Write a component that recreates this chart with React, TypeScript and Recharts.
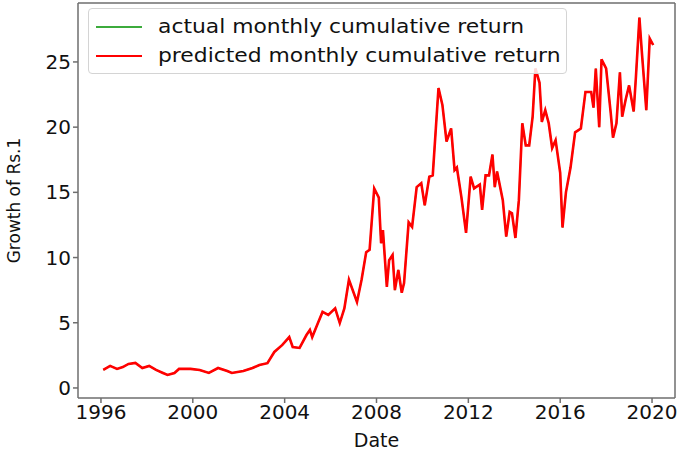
import { Line, LineChart, XAxis, YAxis, ReferenceLine } from "recharts";

// decimal year of each observation
const dates = [
  1996.1, 1996.4, 1996.7, 1996.95, 1997.2, 1997.5, 1997.8, 1998.1, 1998.4, 1998.7,
  1998.9, 1999.2, 1999.4, 1999.9, 2000.3, 2000.7, 2001.1, 2001.5, 2001.7, 2002.2,
  2002.6, 2002.9, 2003.25, 2003.55, 2003.9, 2004.2, 2004.35, 2004.65, 2004.95, 2005.1,
  2005.2, 2005.45, 2005.65, 2005.9, 2006.2, 2006.4, 2006.6, 2006.8, 2007.15, 2007.35,
  2007.55, 2007.7, 2007.9, 2008.1, 2008.2, 2008.28, 2008.45, 2008.55, 2008.7, 2008.8,
  2008.95, 2009.1, 2009.2, 2009.4, 2009.55, 2009.75, 2009.95, 2010.1, 2010.3, 2010.45,
  2010.7, 2010.87, 2011.05, 2011.25, 2011.4, 2011.5, 2011.7, 2011.9, 2012.1, 2012.25,
  2012.5, 2012.6, 2012.75, 2012.9, 2013.05, 2013.15, 2013.25, 2013.5, 2013.65, 2013.8,
  2013.9, 2014.05, 2014.2, 2014.35, 2014.5, 2014.65, 2014.8, 2014.92, 2015.1, 2015.2,
  2015.35, 2015.5, 2015.65, 2015.8, 2016.0, 2016.1, 2016.25, 2016.45, 2016.65, 2016.9,
  2017.1, 2017.35, 2017.45, 2017.55, 2017.7, 2017.8, 2018.0, 2018.2, 2018.3, 2018.45,
  2018.6, 2018.7, 2018.85, 2019.0, 2019.2, 2019.3, 2019.45, 2019.55, 2019.75, 2019.9,
  2020.05,
];

const predicted = [
  1.38, 1.69, 1.46, 1.6, 1.84, 1.92, 1.53, 1.69, 1.38, 1.15,
  1.0, 1.15, 1.46, 1.46, 1.38, 1.15, 1.53, 1.3, 1.15, 1.3,
  1.53, 1.76, 1.9, 2.76, 3.3, 3.9, 3.14, 3.07, 4.06, 4.45,
  3.9, 4.98, 5.83, 5.6, 6.1, 4.98, 6.1, 8.3, 6.6, 8.3,
  10.4, 10.6, 15.3, 14.6, 11.1, 12.1, 7.75, 9.8, 10.2, 7.5,
  9.05, 7.3, 8.05, 12.7, 12.35, 15.4, 15.7, 14.0, 16.2, 16.3,
  23.0, 21.7, 18.9, 19.9, 16.7, 16.9, 14.6, 11.9, 16.2, 15.3,
  15.6, 13.65, 16.3, 16.3, 17.9, 15.4, 16.6, 14.4, 11.6, 13.5,
  13.4, 11.5, 14.4, 20.3, 18.6, 18.6, 20.8, 24.5, 23.4, 20.4,
  21.3, 20.3, 18.4, 19.0, 16.5, 12.3, 15.0, 16.9, 19.6, 19.9,
  22.7, 22.7, 21.5, 24.5, 20.0, 25.2, 24.5, 21.1, 19.2, 20.3,
  24.2, 20.8, 22.1, 23.2, 21.2, 23.9, 28.4, 25.9, 21.3, 26.8,
  26.3,
];

// actual series sits underneath the prediction
const actual = predicted;

const xTicks = [1996, 2000, 2004, 2008, 2012, 2016, 2020];
const yTicks = [0, 5, 10, 15, 20, 25];

const rows = dates.map((d, i) => ({ date: d, actual: actual[i], predicted: predicted[i] }));

const FONT = "'DejaVu Sans', sans-serif";
const SPINE = "#6e6e6e";
const X_DOMAIN: [number, number] = [1995.0, 2021.0];
const Y_DOMAIN: [number, number] = [-0.77, 29.52];

function LegendBox() {
  const item = (color: string, label: string) => (
    <div style={{ display: "flex", alignItems: "center", height: 29 }}>
      <div style={{ width: 46, height: 2, background: color, marginRight: 16 }} />
      <span style={{ display: "inline-block", transform: "scaleX(1.12)", transformOrigin: "left center" }}>{label}</span>
    </div>
  );
  return (
    <div
      style={{
        position: "absolute",
        left: 88,
        top: 8,
        width: 470,
        border: "1px solid #d4d4d4",
        borderRadius: 4,
        background: "rgba(255,255,255,0.85)",
        padding: "3px 0 3px 7px",
        fontFamily: FONT,
        fontSize: 19.5,
        color: "#111",
        lineHeight: 1,
      }}
    >
      {item("#3cab3c", "actual monthly cumulative return")}
      {item("#ff0000", "predicted monthly cumulative return")}
    </div>
  );
}

export default function App() {
  return (
    <div style={{ position: "absolute", left: 0, top: 0, width: 685, height: 456, background: "#fff" }}>
      <LineChart width={685} height={456} data={rows} margin={{ top: 3, right: 10, left: 0, bottom: 0 }}>
        <XAxis
          dataKey="date"
          type="number"
          domain={X_DOMAIN}
          ticks={xTicks}
          allowDataOverflow
          height={58}
          stroke={SPINE}
          strokeWidth={1.5}
          tickSize={5}
          tick={{ fill: "#111", fontSize: 20, fontFamily: FONT }}
          label={{ value: "Date", position: "insideBottom", offset: 9, fill: "#111", fontSize: 19, fontFamily: FONT }}
        />
        <YAxis
          type="number"
          domain={Y_DOMAIN}
          ticks={yTicks}
          allowDataOverflow
          width={78}
          stroke={SPINE}
          strokeWidth={1.5}
          tickSize={5}
          tick={{ fill: "#111", fontSize: 20, fontFamily: FONT }}
          label={{ value: "Growth of Rs.1", angle: -90, position: "insideLeft", offset: 14, fill: "#111", fontSize: 17, fontFamily: FONT, style: { textAnchor: "middle" } }}
        />
        {/* top and right spines */}
        <ReferenceLine y={Y_DOMAIN[1]} stroke={SPINE} strokeWidth={1.5} ifOverflow="visible" />
        <ReferenceLine x={X_DOMAIN[1]} stroke={SPINE} strokeWidth={1.5} ifOverflow="visible" />
        <Line type="linear" dataKey="actual" stroke="#3cab3c" strokeWidth={1.5} dot={false} isAnimationActive={false} />
        <Line type="linear" dataKey="predicted" stroke="#ff0000" strokeWidth={2.6} dot={false} isAnimationActive={false} />
      </LineChart>
      <LegendBox />
    </div>
  );
}
